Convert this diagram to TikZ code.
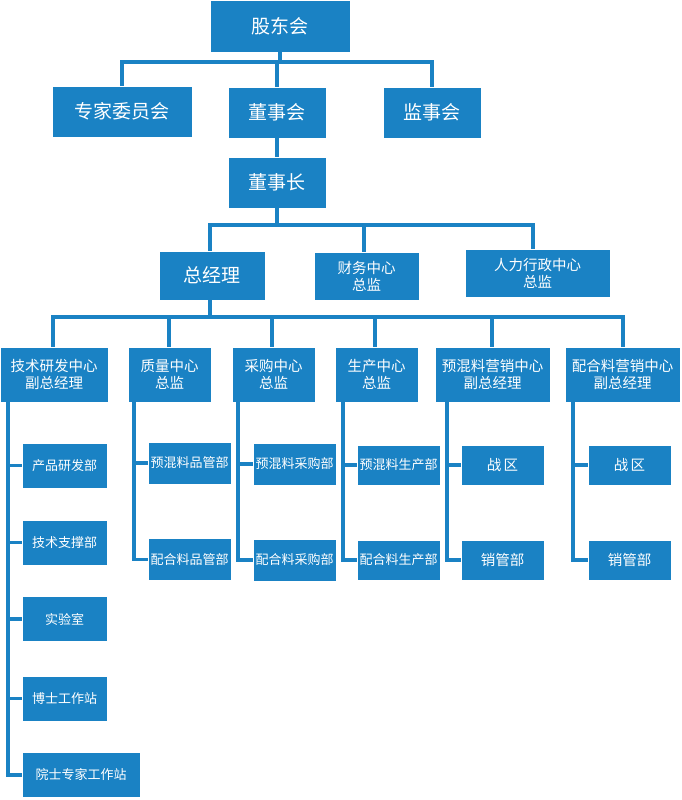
\documentclass[tikz,border=0pt]{standalone}
\usepackage{fontspec}
\setmainfont{Noto Sans CJK SC}
\definecolor{bl}{HTML}{1A82C4}
\begin{document}
\begin{tikzpicture}[x=1pt,y=-1pt,
  box/.style={fill=bl,draw=white,line width=0.8pt,text=white,align=center,inner sep=0pt},
  big/.style={font=\fontsize{19}{22}\selectfont},
  mid/.style={font=\fontsize{14.5}{17}\selectfont},
  sm/.style={font=\fontsize{13}{15}\selectfont},
  ln/.style={draw=bl,line width=3.5pt}]
\useasboundingbox (0,0) rectangle (681,800);
\newcommand\bx[6]{\node[box,#6,minimum width=#3-#2,minimum height=#5-#4] (#1) at ({(#2+#3)/2},{(#4+#5)/2}) {\strut};}
% top
\node[box,big,minimum width=140,minimum height=52] (gd) at (280,26) {股东会};
\node[box,big,minimum width=140,minimum height=51] (zj) at (122,111.5) {专家委员会};
\node[box,big,minimum width=98,minimum height=51] (dsh) at (277,112.5) {董事会};
\node[box,big,minimum width=98,minimum height=51] (js) at (432,112.5) {监事会};
\node[box,big,minimum width=98,minimum height=51] (dsz) at (277,182.5) {董事长};
\node[box,big,minimum width=106,minimum height=49] (zjl) at (212,275.5) {总经理};
\node[box,mid,minimum width=105,minimum height=48] (cw) at (366.5,276) {财务中心\\总监};
\node[box,mid,minimum width=145,minimum height=48] (rl) at (537.5,273) {人力行政中心\\总监};
% row
\node[box,mid,minimum width=108,minimum height=55] (js1) at (54,374.5) {技术研发中心\\副总经理};
\node[box,mid,minimum width=83,minimum height=55] (zl) at (169.5,374.5) {质量中心\\总监};
\node[box,mid,minimum width=83,minimum height=55] (cg) at (273.5,374.5) {采购中心\\总监};
\node[box,mid,minimum width=83,minimum height=55] (sc) at (376.5,374.5) {生产中心\\总监};
\node[box,mid,minimum width=115,minimum height=55] (yh) at (492.5,374.5) {预混料营销中心\\副总经理};
\node[box,mid,minimum width=115,minimum height=55] (ph) at (622.5,374.5) {配合料营销中心\\副总经理};
% tech children
\node[box,sm,minimum width=85,minimum height=45] (t1) at (64.5,465.5) {产品研发部};
\node[box,sm,minimum width=85,minimum height=45] (t2) at (64.5,542.5) {技术支撑部};
\node[box,sm,minimum width=85,minimum height=45] (t3) at (64.5,619) {实验室};
\node[box,sm,minimum width=85,minimum height=45] (t4) at (64.5,698.5) {博士工作站};
\node[box,sm,minimum width=118,minimum height=45] (t5) at (81,775) {院士专家工作站};
\node[box,sm,minimum width=83,minimum height=42] (q1) at (189.5,463) {预混料品管部};
\node[box,sm,minimum width=83,minimum height=42] (q2) at (189.5,559.5) {配合料品管部};
\node[box,sm,minimum width=83,minimum height=42] (c1) at (294.5,464) {预混料采购部};
\node[box,sm,minimum width=83,minimum height=42] (c2) at (294.5,560) {配合料采购部};
\node[box,sm,minimum width=83,minimum height=40] (s1) at (398.5,465) {预混料生产部};
\node[box,sm,minimum width=83,minimum height=40] (s2) at (398.5,560) {配合料生产部};
\node[box,mid,minimum width=83,minimum height=40] (y1) at (502.5,465) {战\,区};
\node[box,mid,minimum width=83,minimum height=40] (y2) at (502.5,560) {销管部};
\node[box,mid,minimum width=83,minimum height=40] (p1) at (629.5,465) {战\,区};
\node[box,mid,minimum width=83,minimum height=40] (p2) at (629.5,560) {销管部};
% top connectors
\coordinate (b1) at (280,62);
\draw[ln] (gd.south) -- (b1);
\draw[ln] (zj.north) |- (b1) -| (js.north);
\draw[ln] (b1) -- (277,62) -- (dsh.north);
\draw[ln] (dsh) -- (dsz);
\coordinate (b2) at (277,225);
\draw[ln] (dsz.south) -- (b2);
\draw[ln] (zjl.north -| 210,0) |- (b2) -| (rl.north -| 533,0);
\draw[ln] (364,225) -- (cw.north -| 364,0);
\coordinate (b3) at (210,317);
\draw[ln] (zjl.south -| 210,0) -- (b3);
\draw[ln] (js1.north -| 53,0) |- (b3) -| (ph.north -| 623,0);
\foreach \n/\x in {zl/169,cg/272,sc/375,yh/492}
  \draw[ln] (\x,317) -- (\n.north -| \x,0);
% sub connectors
\draw[ln] (js1.south -| 8,0) |- (t5.west);
\foreach \n in {t1,t2,t3,t4} \draw[ln] (\n.west) -- (\n.west -| 8,0);
\draw[ln] (zl.south -| 134,0) |- (q2.west); \draw[ln] (q1.west) -- (q1.west -| 134,0);
\draw[ln] (cg.south -| 238,0) |- (c2.west); \draw[ln] (c1.west) -- (c1.west -| 238,0);
\draw[ln] (sc.south -| 343,0) |- (s2.west); \draw[ln] (s1.west) -- (s1.west -| 343,0);
\draw[ln] (yh.south -| 447,0) |- (y2.west); \draw[ln] (y1.west) -- (y1.west -| 447,0);
\draw[ln] (ph.south -| 573,0) |- (p2.west); \draw[ln] (p1.west) -- (p1.west -| 573,0);
\end{tikzpicture}
\end{document}
